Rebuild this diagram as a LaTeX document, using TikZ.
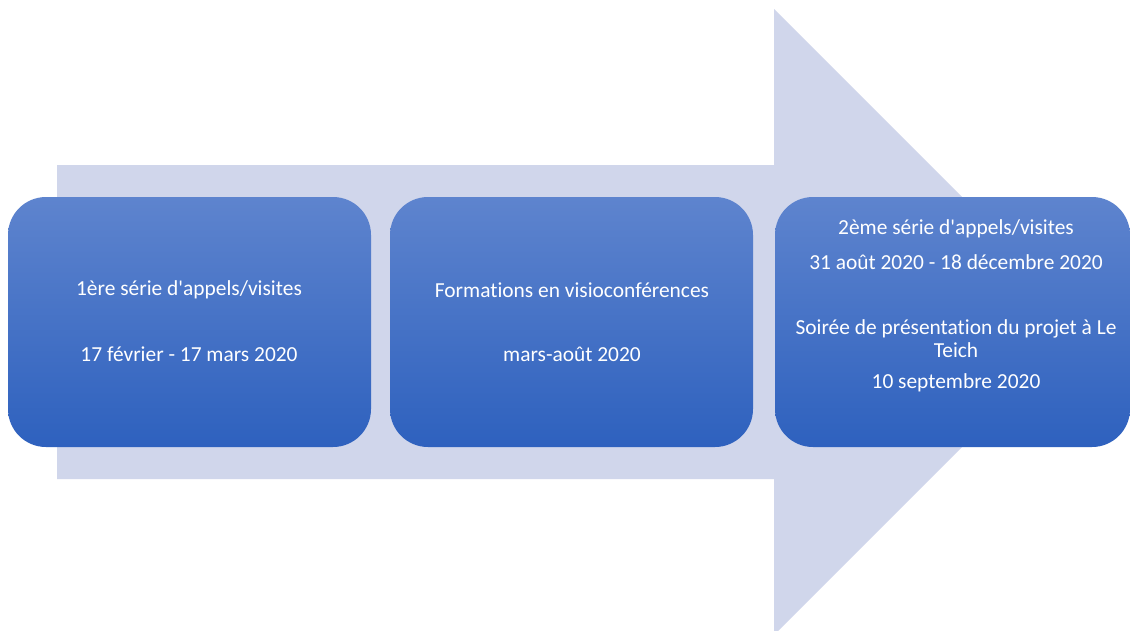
\documentclass[tikz,border=0pt]{standalone}
\usepackage{fontspec}
\setmainfont{Carlito}[Ligatures={TeX,NoCommon}]
\definecolor{shaftcol}{RGB}{208,214,235}
\definecolor{boxtop}{RGB}{94,132,206}
\definecolor{boxbot}{RGB}{46,97,190}
\newcommand{\apos}{\textquotesingle}
\begin{document}
\begin{tikzpicture}[x=1pt,y=-1pt,
  stagebox/.style={draw=none, rectangle, rounded corners=38pt, top color=boxtop, bottom color=boxbot, minimum height=250pt, inner sep=0pt},
  lbl/.style={text=white, font=\fontsize{21.4}{23}\selectfont, inner sep=0pt, align=center}]
\useasboundingbox (0,0) rectangle (1130,630);
\fill[white] (0,0) rectangle (1130,630);
\fill[shaftcol] (57,165) -- (774,165) -- (774,9) -- (1087,322) -- (774,635) -- (774,479) -- (57,479) -- cycle;
\node[stagebox, minimum width=363pt] (b1) at (189.5,322) {};
\node[stagebox, minimum width=363pt] (b2) at (571.5,322) {};
\node[stagebox, minimum width=355pt] (b3) at (952.5,322) {};
\node[lbl] (t11) at (189,290) {1ère série d\apos appels/visites};
\node[lbl] (t12) at (189,354) {17 février - 17 mars 2020};
\node[lbl] (t21) at (572,290) {Formations en visioconférences};
\node[lbl] (t22) at (572,354) {mars-août 2020};
\node[lbl] (t31) at (956,229) {2ème série d\apos appels/visites};
\node[lbl] (t32) at (956,262) {31 août 2020 - 18 décembre 2020};
\node[lbl] (t33) at (956,338.5) {Soirée de présentation du projet à Le\\Teich};
\node[lbl] (t34) at (956,383) {10 septembre 2020};
\end{tikzpicture}
\end{document}
